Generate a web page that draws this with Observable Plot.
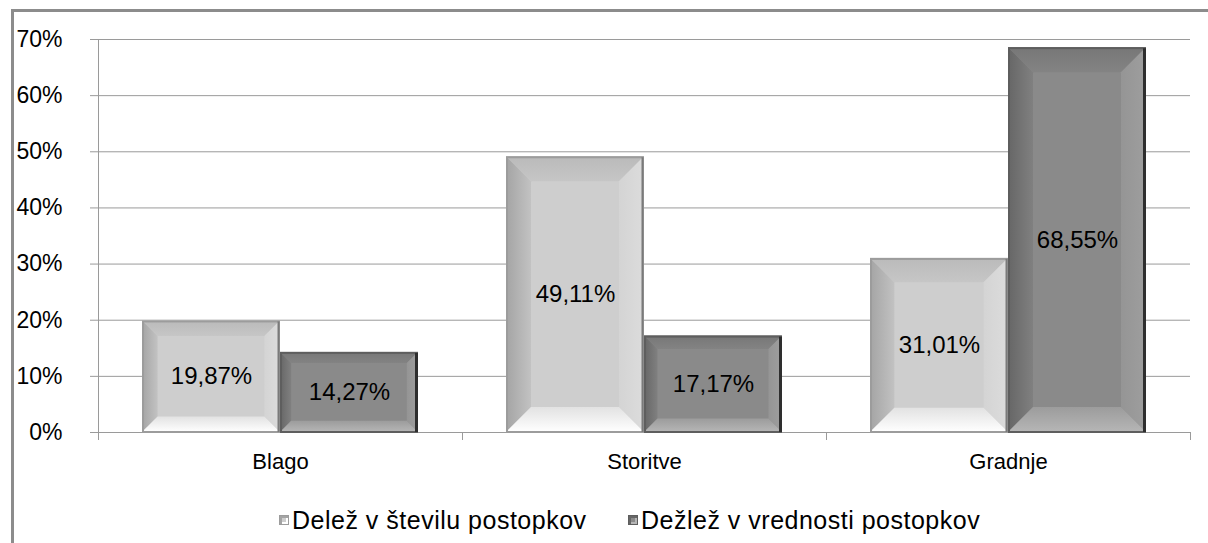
<!DOCTYPE html>
<html>
<head>
<meta charset="utf-8">
<script src="https://cdn.jsdelivr.net/npm/d3@7"></script>
<script src="https://cdn.jsdelivr.net/npm/@observablehq/plot@0.6"></script>
<style>
  body { margin: 0; background: #fff; font-family: "Liberation Sans", Arial, sans-serif; }
  #wrap { position: relative; width: 1208px; height: 543px; overflow: hidden; background: #fff; }
  #frame { position: absolute; left: 11px; top: 9px; width: 1400px; height: 800px;
           border-left: 3px solid #8c8c8c; border-top: 3px solid #8c8c8c; }
  #chart { position: absolute; left: 0; top: 0; }
  #legend { position: absolute; top: 500px; left: 0; width: 1208px; height: 40px;
            font-size: 25px; letter-spacing: 0.5px; color: #000; white-space: nowrap; }
  .item { position: absolute; top: 0; height: 40px; display: flex; align-items: center; }
  .sw { display: inline-block; width: 8px; height: 8px; margin-right: 3px; }
</style>
</head>
<body>
<div id="wrap">
  <div id="frame"></div>
  <div id="chart"></div>
  <div id="legend"></div>
</div>
<script>
// ---- data ----
const categories = ["Blago", "Storitve", "Gradnje"];
const seriesNames = ["Delež v številu postopkov", "Dežlež v vrednosti postopkov"];
const shareCount = [19.87, 49.11, 31.01];   // Delež v številu postopkov
const shareValue = [14.27, 17.17, 68.55];   // Dežlež v vrednosti postopkov
const yTicks = [0, 10, 20, 30, 40, 50, 60, 70];
const seriesColors = ["#cecece", "#8a8a8a"];

const data = categories.flatMap((c, i) => [
  {cat: c, series: seriesNames[0], value: shareCount[i]},
  {cat: c, series: seriesNames[1], value: shareValue[i]}
]);
const fmt = v => v.toFixed(2).replace(".", ",") + "%";

const plot = Plot.plot({
  width: 1208,
  height: 490,
  marginTop: 39,
  marginBottom: 58,
  marginLeft: 98,
  marginRight: 18,
  style: {fontFamily: '"Liberation Sans", Arial, sans-serif', color: "#000", background: "transparent"},
  fx: {domain: categories, padding: 0, label: null},
  x: {domain: seriesNames, paddingInner: 0, paddingOuter: 0.31, axis: null},
  y: {domain: [0, 70], label: null},
  color: {domain: seriesNames, range: seriesColors},
  marks: [
    Plot.gridY(yTicks, {stroke: "#9a9a9a", strokeOpacity: 1, strokeWidth: 1}),
    Plot.barY(data, {fx: "cat", x: "series", y: "value", fill: "series"}),
    Plot.text(data, {fx: "cat", x: "series", y: d => d.value / 2, text: d => fmt(d.value),
                     fontSize: 24, fill: "#000"}),
    Plot.axisY(yTicks, {tickSize: 8, tickPadding: 28, tickFormat: d => d + "%", stroke: "#9a9a9a",
                        fill: "#000", fontSize: 23, label: null}),
    Plot.frame({anchor: "left", facetAnchor: "left", stroke: "#9a9a9a"}),
    Plot.axisFx({anchor: "bottom", tickSize: 0, tickPadding: 21, fontSize: 22, fill: "#000", label: null}),
    Plot.axisFx({anchor: "bottom", tickSize: 8, tickFormat: () => "", dx: -182, stroke: "#9a9a9a", label: null}),
    Plot.axisFx({anchor: "bottom", tickSize: 8, tickFormat: () => "", dx: 182, stroke: "#9a9a9a", label: null})
  ]
});
document.getElementById("chart").appendChild(plot);

// ---- bevel decoration of the bars drawn by Plot ----
const svg = d3.select(plot);
const defs = svg.insert("defs", ":first-child");
function grad(id, x2, y2, c1, c2) {
  const g = defs.append("linearGradient").attr("id", id)
    .attr("x1", 0).attr("y1", 0).attr("x2", x2).attr("y2", y2);
  g.append("stop").attr("offset", "0%").attr("stop-color", c1);
  g.append("stop").attr("offset", "100%").attr("stop-color", c2);
}
const styles = [
  {top: ["#bababa", "#c6c6c6"], left: ["#a4a4a4", "#c2c2c2"], right: ["#d4d4d4", "#dcdcdc"],
   bottom: ["#e2e2e2", "#ffffff"], border: "#9c9c9c", edge: "#7a7a7a"},
  {top: ["#777777", "#838383"], left: ["#666666", "#808080"], right: ["#959595", "#9e9e9e"],
   bottom: ["#9c9c9c", "#b6b6b6"], border: "#5e5e5e", edge: "#2e2e2e"}
];
styles.forEach((s, i) => {
  grad("t" + i, 0, 1, s.top[0], s.top[1]);
  grad("l" + i, 1, 0, s.left[0], s.left[1]);
  grad("r" + i, 1, 0, s.right[0], s.right[1]);
  grad("b" + i, 0, 1, s.bottom[0], s.bottom[1]);
});
svg.selectAll('g[aria-label="bar"] rect').each(function() {
  const r = d3.select(this);
  const x = +r.attr("x"), y = +r.attr("y"), w = +r.attr("width"), h = +r.attr("height");
  const fill = (r.attr("fill") || "").toLowerCase();
  const k = fill === seriesColors[1] ? 1 : 0;
  const s = styles[k];
  const b = Math.min(25, h * 0.14, w * 0.2);
  const parent = d3.select(this.parentNode);
  const g = parent.append("g").attr("transform", this.getAttribute("transform"));
  const poly = (pts, f) => g.append("polygon").attr("points", pts.map(p => p.join(",")).join(" ")).attr("fill", f);
  poly([[x, y], [x + w, y], [x + w - b, y + b], [x + b, y + b]], `url(#t${k})`);
  poly([[x, y], [x + b, y + b], [x + b, y + h - b], [x, y + h]], `url(#l${k})`);
  poly([[x + w - b, y + b], [x + w, y], [x + w, y + h], [x + w - b, y + h - b]], `url(#r${k})`);
  poly([[x + b, y + h - b], [x + w - b, y + h - b], [x + w, y + h], [x, y + h]], `url(#b${k})`);
  g.append("rect").attr("x", x + 1).attr("y", y + 1).attr("width", w - 2).attr("height", h - 1)
    .attr("fill", "none").attr("stroke", s.border).attr("stroke-width", 2);
  g.append("line").attr("x1", x + w - 1.5).attr("x2", x + w - 1.5).attr("y1", y + 1).attr("y2", y + h)
    .attr("stroke", s.edge).attr("stroke-width", k ? 3 : 2);
});
// keep labels above the bevels
svg.selectAll('g[aria-label="text"]').raise();

// ---- legend ----
const legend = d3.select("#legend");
const legendLeft = [279, 628];
seriesNames.forEach((name, i) => {
  const it = legend.append("div").attr("class", "item").style("left", legendLeft[i] + "px");
  it.append("span").attr("class", "sw")
    .style("background", seriesColors[i])
    .style("border", "1px solid " + styles[i].border)
    .style("box-shadow", `inset 2px 2px 0 ${styles[i].left[0]}, inset -2px -2px 0 ${styles[i].bottom[1]}`);
  it.append("span").text(name);
});
</script>
</body>
</html>
